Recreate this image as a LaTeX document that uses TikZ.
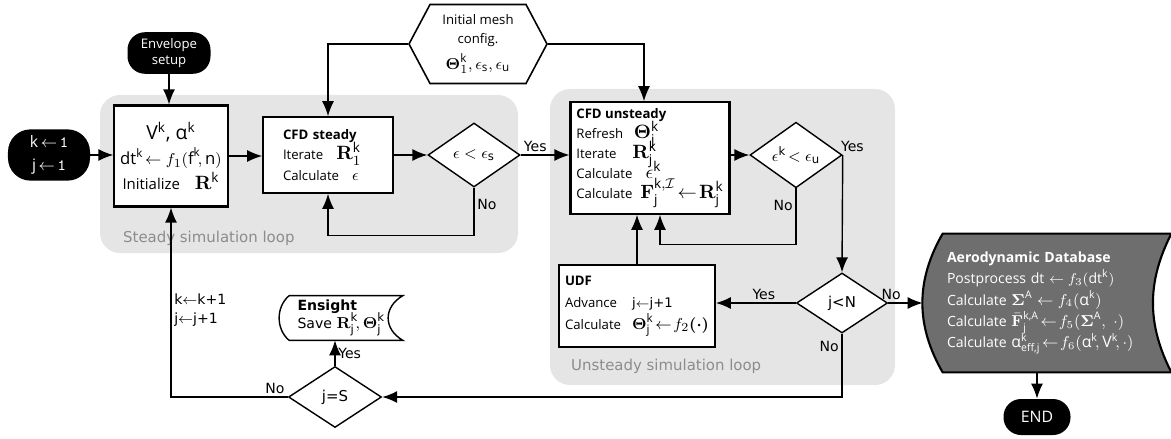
\documentclass[tikz,border=0pt]{standalone}
\usepackage{amsmath}
\usepackage{amssymb}
\usepackage{bm}
\usepackage[no-math]{fontspec}
\setmainfont{Open Sans}
\newfontfamily\labelfont{DejaVu Sans}
\usepackage{xcolor}
\usetikzlibrary{shapes.geometric,shapes.symbols,arrows.meta,backgrounds}

\definecolor{loopgray}{HTML}{E5E5E5}
\definecolor{looptext}{HTML}{8C8C8C}
\definecolor{dbgray}{HTML}{6E6E6E}

\newcommand{\bigsym}[1]{{\fontsize{11}{11}\selectfont\mbox{$#1$}}}
\newcommand{\midsym}[1]{{\fontsize{9.5}{9.5}\selectfont\mbox{$#1$}}}
\newcommand{\dbsym}[1]{{\fontsize{9}{9}\selectfont\mbox{$#1$}}}
\newcommand{\rowlbl}[1]{\makebox[13.4mm][l]{#1}}
\newcommand{\tightlines}{\lineskiplimit-20pt\relax}

\begin{document}
\begin{tikzpicture}[x=0.2mm,y=-0.2mm]

\tikzstyle{terminal}=[fill=black,text=white,rounded corners=3.5mm,align=center,font=\fontsize{7.5}{9.5}\selectfont]
\tikzstyle{procbox}=[draw,fill=white,line width=1.2pt,align=left,font=\fontsize{7.5}{11.4}\selectfont\tightlines]
\tikzstyle{decision}=[diamond,draw,fill=white,line width=0.8pt,inner sep=0pt,font=\labelfont\fontsize{8.5}{10}\selectfont]
\tikzstyle{flow}=[line width=0.8pt,-{Latex[length=3mm,width=2.4mm]}]
\tikzstyle{answer}=[font=\labelfont\fontsize{8}{11}\selectfont,inner sep=1.5pt]
\tikzstyle{loopbg}=[fill=loopgray,rounded corners=4mm]
\tikzstyle{looplabel}=[text=looptext,anchor=west,font=\labelfont\fontsize{8.5}{10}\selectfont]
\tikzstyle{storetext}=[inner sep=0pt,align=left]

\useasboundingbox (0,0) rectangle (1171,438);

%% simulation loops
\fill[loopbg] (100,95) rectangle (518,253);
\fill[loopbg] (550,89) rectangle (895,385);
\node[looplabel] (steadylbl) at (117,238) {Steady simulation loop};
\node[looplabel] (unsteadylbl) at (565,366) {Unsteady simulation loop};

%% steady part
\node[terminal,minimum width=16.4mm,minimum height=10.2mm,rounded corners=4.5mm,font=\fontsize{9}{13.5}\selectfont] (start) at (49,155) {k$\,\leftarrow\,$\texttt{1}\\j$\,\leftarrow\,$\texttt{1}};
\node[terminal,minimum width=16.6mm,minimum height=7.4mm] (envelope) at (169,53) {Envelope\\setup};
\node[procbox,align=center,minimum width=22mm,minimum height=20.2mm,font=\fontsize{8.5}{14}\selectfont\tightlines] (init) at (171,156) {{\fontsize{11}{12}\selectfont V$^{\text{k}}$, α$^{\text{k}}$}\\{\fontsize{9.5}{11}\selectfont dt$^{\text{k}}\!\leftarrow f_1(\text{f}^{\text{k}}\!,\text{n})$}\\Initialize\quad \bigsym{\mathbf{R}^{\text{k}}}};
\node[procbox,line width=0.9pt,minimum width=26mm,minimum height=15.2mm,text width=18mm,font=\fontsize{7.5}{11.8}\selectfont\tightlines] (steady) at (328,155) {\textbf{CFD steady}\\Iterate\hspace{1em}\bigsym{\mathbf{R}_1^{\text{k}}}\\Calculate\hspace{1em}\midsym{\epsilon}};
\node[decision,minimum width=18.4mm,minimum height=12.8mm] (ceps) at (474,155) {\midsym{\epsilon<\epsilon_{\text{s}}}};
\node[signal,signal to=west and east,signal pointer angle=124,draw,fill=white,line width=0.9pt,minimum width=27.6mm,minimum height=15.8mm,align=center,font=\fontsize{7.5}{10.5}\selectfont\tightlines] (mesh) at (478,44) {Initial mesh\\config.\\[1.6mm]\midsym{\boldsymbol{\Theta}_1^{\text{k}}, \epsilon_{\text{s}}, \epsilon_{\text{u}}}};

%% unsteady part
\node[procbox,minimum width=31.2mm,minimum height=22mm] (unsteady) at (650,158) {\textbf{CFD unsteady}\\Refresh\hspace{0.8em}\bigsym{\boldsymbol{\Theta}_{\text{j}}^{\text{k}}}\\Iterate\hspace{1.2em}\bigsym{\mathbf{R}_{\text{j}}^{\text{k}}}\\Calculate\hspace{1em}\bigsym{\epsilon^{\text{k}}}\\Calculate\hspace{0.6em}\bigsym{\mathbf{F}_{\text{j}}^{\text{k},\mathcal{I}}\!\leftarrow\!\mathbf{R}_{\text{j}}^{\text{k}}}};
\node[decision,minimum width=18.4mm,minimum height=12.4mm] (ueps) at (796,155) {\midsym{\epsilon^{\text{k}}\!<\epsilon_{\text{u}}}};
\node[decision,minimum width=18.2mm,minimum height=12mm] (jn) at (842,303) {j<N};
\node[procbox,minimum width=29.8mm,minimum height=16.4mm,font=\fontsize{7.5}{12.5}\selectfont\tightlines] (udf) at (637,306) {\textbf{UDF}\\\rowlbl{Advance}{\labelfont j$\leftarrow$j+1}\\\rowlbl{Calculate}\midsym{\boldsymbol{\Theta}_{\text{j}}^{\text{k}}\!\leftarrow\! f_2\boldsymbol{(\cdot)}}};

%% output part
\node[storetext,text=white,minimum width=45.6mm,minimum height=27.6mm,text width=44mm,font=\fontsize{8}{12.2}\selectfont\tightlines] (db) at (1057,303) {\textbf{Aerodynamic Database}\\Postprocess dt $\leftarrow f_3(\text{dt}^{\text{k}})$\\Calculate \dbsym{\boldsymbol{\Sigma}^{\text{A}}\leftarrow f_4(\text{α}^{\text{k}})}\\Calculate \dbsym{\bar{\mathbf{F}}_{\text{j}}^{\text{k,A}}\!\leftarrow\! f_5(\boldsymbol{\Sigma}^{\text{A}},\ \cdot)}\\Calculate \dbsym{\text{α}_{\text{eff,j}}^{\text{k}}\!\leftarrow\! f_6(\text{α}^{\text{k}}\!,\text{V}^{\text{k}}\!,\cdot)}};
\node[terminal,minimum width=13.4mm,minimum height=7.2mm,font=\fontsize{9}{10}\selectfont] (end) at (1037,417) {END};
\node[decision,minimum width=18.6mm,minimum height=12.2mm] (js) at (335,397) {j=S};
\node[storetext,minimum width=22.6mm,minimum height=8.8mm,text width=19.4mm,font=\labelfont\fontsize{8}{10}\selectfont\tightlines] (ens) at (346,318) {\textbf{Ensight}\\Save \midsym{\mathbf{R}_{\text{j}}^{\text{k}}\!,\boldsymbol{\Theta}_{\text{j}}^{\text{k}}}};

\begin{scope}[on background layer]
  \draw[line width=1.2pt,fill=dbgray] (db.north west) to[bend right=30] (db.south west) -- (db.south east) to[bend left=27] (db.north east) -- cycle;
  \draw[line width=0.8pt,fill=white] (ens.north west) to[bend right=50] (ens.south west) -- (ens.south east) to[bend left=60,looseness=1.3] (ens.north east) -- cycle;
\end{scope}
\coordinate (dbin) at ([xshift=-4mm]db.west);

%% connectors
\draw[flow] (start.east) -- (start.east -| init.west);
\draw[flow] (envelope.south) -- (envelope.south |- init.north);
\draw[flow] (init.east) -- (init.east -| steady.west);
\draw[flow] (steady.east) -- (ceps.west);
\draw[flow] (ceps.east) -- node[answer,above,pos=0.3]{Yes} (ceps.east -| unsteady.west);
\draw[flow] (ceps.south) -- node[answer,right,pos=0.35]{No} ++(0,48) -| (steady.south);
\draw[flow] (mesh.west) -| (steady.north);
\draw[flow] (mesh.east) -| ([xshift=-1.2mm]unsteady.north);
\draw[flow] (unsteady.east |- ueps.west) -- (ueps.west);
\draw[flow] (ueps.south) -- node[answer,left,pos=0.3]{No} ++(0,56) -| ([xshift=2mm]unsteady.south);
\draw[flow] (ueps.east) node[answer,above right,xshift=-1mm]{Yes} -- (jn.north);
\draw[flow] (jn.west) -- node[answer,above,pos=0.4]{Yes} (jn.west -| udf.east);
\draw[flow] (udf.north) -- (udf.north |- unsteady.south);
\draw[flow] (jn.east) node[answer,above right,xshift=-2mm]{No} -- (dbin);
\draw[flow] (jn.south) |- node[answer,left,pos=0.1]{No} (js.east);
\draw[flow] (js.north) -- node[answer,right]{Yes} (js.north |- ens.south);
\draw[flow] (js.west) node[answer,above left]{No} -| node[answer,right,align=left,pos=0.73]{k$\leftarrow$k+1\\j$\leftarrow$j+1} (init.south);
\draw[flow] (end.north |- db.south) -- (end.north);

\end{tikzpicture}
\end{document}
